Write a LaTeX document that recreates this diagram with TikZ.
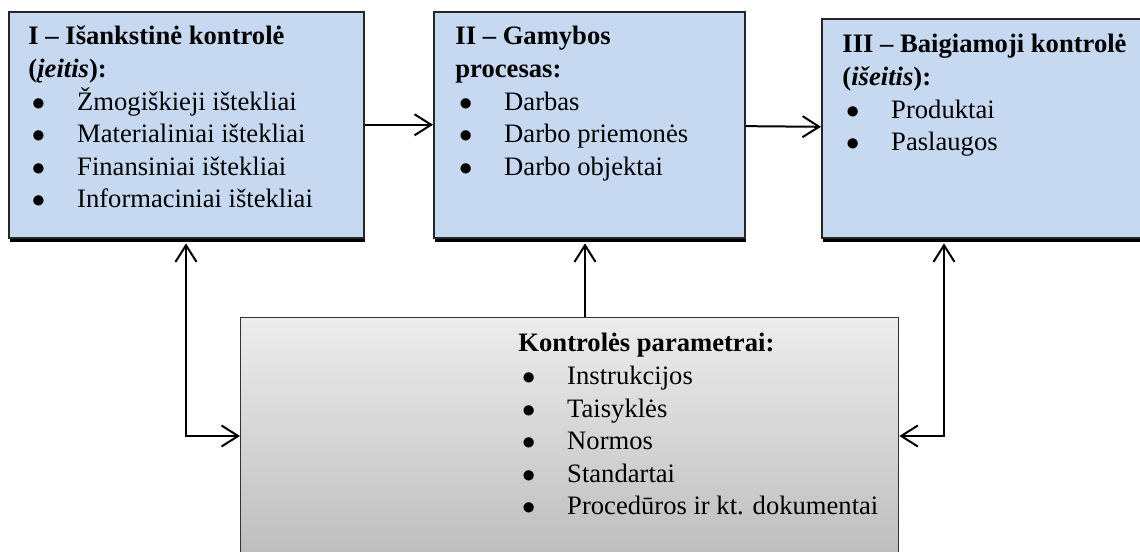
\documentclass[tikz,border=0pt]{standalone}
\usepackage{fontspec}
\setmainfont{Liberation Serif}
\usetikzlibrary{arrows.meta, positioning, shadows}

\definecolor{stageblue}{RGB}{198,217,241}
\definecolor{shadetop}{RGB}{237,237,237}
\definecolor{shadebot}{RGB}{188,188,188}

\newcommand{\pxu}{0.451pt}
\newcommand{\itm}[1]{\hspace*{1.6pt}\makebox[20.4pt][l]{\fontsize{13}{13}\selectfont$\bullet$}#1}

\tikzset{
  stage/.style={draw=black!85, line width=0.7pt, fill=stageblue, inner sep=0pt, anchor=north west,
    drop shadow={shadow xshift=0.5pt, shadow yshift=-1.8pt, fill=black, opacity=1}},
  params/.style={draw=black!80, line width=0.6pt, top color=shadetop, bottom color=shadebot,
    inner sep=0pt, anchor=north west},
  boxtext/.style={inner sep=0pt, anchor=base west, font=\fontsize{12}{14.66}\selectfont},
  link/.style={line width=0.9pt, -{Straight Barb[length=7.5pt, width=9.5pt]}},
  twoway/.style={line width=0.9pt, {Straight Barb[length=7.5pt, width=9.5pt]}-{Straight Barb[length=7.5pt, width=9.5pt]}}
}

\begin{document}
\begin{tikzpicture}[x=0.451pt, y=-0.451pt]
    \clip (0,0) rectangle (1140,552);
    \node[stage, minimum width=355*\pxu, minimum height=226*\pxu] (b1) at (8,11) {};
    \node[stage, minimum width=311*\pxu, minimum height=226*\pxu] (b2) at (433,11) {};
    \node[stage, minimum width=330*\pxu, minimum height=219*\pxu] (b3) at (821,18) {};
    \node[params, minimum width=658*\pxu, minimum height=245*\pxu] (bb) at (240,317) {};

    \node[boxtext] (t1) at ([shift={(20,34)}]b1.north west) {\begin{tabular}[t]{@{}l@{}}
        \textbf{I – Išankstinė kontrolė}\\
        \textbf{(\textit{įeitis}):}\\
        \itm{Žmogiškieji ištekliai}\\
        \itm{Materialiniai ištekliai}\\
        \itm{Finansiniai ištekliai}\\
        \itm{Informaciniai ištekliai}
    \end{tabular}};
    \node[boxtext] (t2) at ([shift={(22,34)}]b2.north west) {\begin{tabular}[t]{@{}l@{}}
        \textbf{II – Gamybos}\\
        \textbf{procesas:}\\
        \itm{Darbas}\\
        \itm{Darbo priemonės}\\
        \itm{Darbo objektai}
    \end{tabular}};
    \node[boxtext] (t3) at ([shift={(21,35)}]b3.north west) {\begin{tabular}[t]{@{}l@{}}
        \textbf{III – Baigiamoji kontrolė}\\
        \textbf{(\textit{išeitis}):}\\
        \itm{Produktai}\\
        \itm{Paslaugos}
    \end{tabular}};
    \node[boxtext] (t4) at ([shift={(278,35)}]bb.north west) {\begin{tabular}[t]{@{}l@{}}
        \textbf{Kontrolės parametrai:}\\
        \itm{Instrukcijos}\\
        \itm{Taisyklės}\\
        \itm{Normos}\\
        \itm{Standartai}\\
        \itm{Procedūros ir kt. dokumentai}
    \end{tabular}};

    % connectors
    \coordinate (lc) at (186,436);
    \coordinate (rc) at (944,436);
    \coordinate (mc) at (585,0);
    \draw[link] (b1) -- (b2);
    \draw[link] (b2) -- (b3);
    \draw[link, shorten >=2.2pt] (bb.north -| mc) -- (b2.south -| mc);
    \draw[twoway, shorten <=2.2pt] (b1.south -| lc) -- (lc) -- (bb.west |- lc);
    \draw[twoway, shorten <=2.2pt] (b3.south -| rc) -- (rc) -- (bb.east |- rc);
\end{tikzpicture}
\end{document}
